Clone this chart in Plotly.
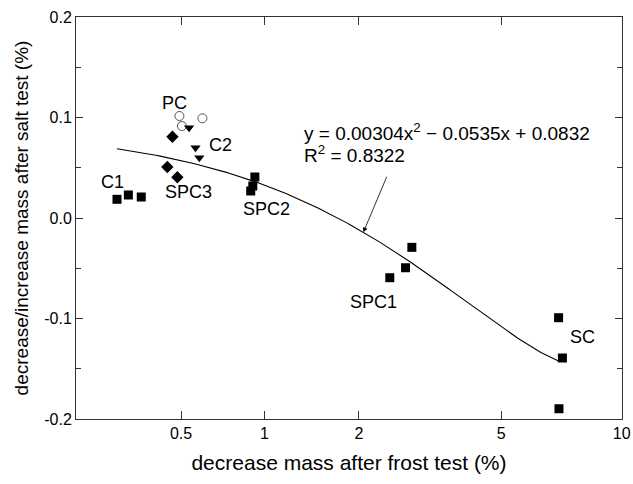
import numpy as np
import plotly.graph_objects as go

# ---------------- data ----------------
C1_x = [0.272, 0.305, 0.346]
C1_y = [0.0186, 0.0229, 0.0209]
SPC2_x = [0.928, 0.913, 0.898]
SPC2_y = [0.0408, 0.0318, 0.0269]
SPC1_x = [2.855, 2.739, 2.467]
SPC1_y = [-0.0292, -0.0495, -0.0594]
SC_x = [7.015, 7.17, 7.03]
SC_y = [-0.0992, -0.1393, -0.1898]
SPC3_x = [0.463, 0.442, 0.484]
SPC3_y = [0.0809, 0.0507, 0.0405]
PC_x = [0.493, 0.603, 0.504]
PC_y = [0.1015, 0.0992, 0.0915]
C2_x = [0.537, 0.568, 0.587]
C2_y = [0.0899, 0.0700, 0.0600]

fit_coef = [0.00304, -0.0535, 0.0832]   # y = a x^2 + b x + c
fit_range = [0.272, 7.05]

x_tick_vals = [0.5, 1, 2, 5, 10]
x_tick_text = ["0.5", "1", "2", "5", "10"]
y_tick_vals = [0.2, 0.1, 0.0, -0.1, -0.2]
y_tick_text = ["0.2", "0.1", "0.0", "-0.1", "-0.2"]

# ------------- custom x scale (stretched log) -------------
K = 0.2087
def xs(v):
    u = np.log10(np.asarray(v, dtype=float))
    return u + K * u ** 2

FONT = "Liberation Sans, Arial, sans-serif"
fig = go.Figure()

sq = dict(symbol="square", size=9, color="black")
fig.add_trace(go.Scatter(x=xs(C1_x), y=C1_y, mode="markers", marker=sq, showlegend=False))
fig.add_trace(go.Scatter(x=xs(SPC2_x), y=SPC2_y, mode="markers", marker=sq, showlegend=False))
fig.add_trace(go.Scatter(x=xs(SPC1_x), y=SPC1_y, mode="markers", marker=sq, showlegend=False))
fig.add_trace(go.Scatter(x=xs(SC_x), y=SC_y, mode="markers", marker=sq, showlegend=False))
fig.add_trace(go.Scatter(x=xs(SPC3_x), y=SPC3_y, mode="markers",
                         marker=dict(symbol="diamond", size=9.5, color="black"), showlegend=False))
fig.add_trace(go.Scatter(x=xs(PC_x), y=PC_y, mode="markers",
                         marker=dict(symbol="circle-open", size=9, color="#555",
                                     line=dict(width=1, color="#555")), showlegend=False))
fig.add_trace(go.Scatter(x=xs(C2_x), y=C2_y, mode="markers",
                         marker=dict(symbol="triangle-down", size=9, color="black"), showlegend=False))

# fit curve from the equation shown on the chart
fx = np.geomspace(fit_range[0], fit_range[1], 200)
fy = np.polyval(fit_coef, fx)
fig.add_trace(go.Scatter(x=xs(fx), y=fy, mode="lines",
                         line=dict(color="black", width=1.1), showlegend=False))

# sample labels
labels = [("PC", 0.470, 0.1144), ("C2", 0.704, 0.0731), ("C1", 0.2596, 0.0361),
          ("SPC3", 0.5325, 0.0256), ("SPC2", 1.019, 0.0088), ("SPC1", 2.211, -0.0831),
          ("SC", 8.035, -0.1184)]
for txt, lx, ly in labels:
    fig.add_annotation(x=float(xs(lx)), y=ly, text=txt, showarrow=False,
                       font=dict(family=FONT, size=18, color="black"))

# equation
fig.add_annotation(x=float(xs(1.335)), y=0.0858, xanchor="left",
                   text="y = 0.00304x<sup>2</sup> \u2212 0.0535x + 0.0832", showarrow=False,
                   font=dict(family=FONT, size=19, color="black"))
fig.add_annotation(x=float(xs(1.335)), y=0.0640, xanchor="left",
                   text="R<sup>2</sup> = 0.8322", showarrow=False,
                   font=dict(family=FONT, size=19, color="black"))
# arrow to the curve
hx = 2.062
fig.add_annotation(x=float(xs(hx)), y=float(np.polyval(fit_coef, hx)), text="",
                   showarrow=True, ax=24, ay=-57, arrowhead=2, arrowsize=1.2,
                   arrowwidth=0.8, arrowcolor="black")

axis_common = dict(showline=True, linecolor="#333", linewidth=1, mirror="allticks",
                   ticks="inside", tickcolor="#333", showgrid=False, zeroline=False,
                   automargin=False,
                   tickfont=dict(family=FONT, size=16, color="black"))

fig.update_xaxes(range=[float(xs(0.175)), float(xs(10.02))], tickmode="array",
                 tickvals=list(xs(x_tick_vals)), ticktext=x_tick_text, ticklen=8,
                 title=dict(text="decrease mass after frost test (%)",
                            font=dict(family=FONT, size=21, color="black"), standoff=14),
                 **axis_common)
fig.update_yaxes(range=[-0.2, 0.2], tickmode="array", tickvals=y_tick_vals,
                 ticktext=y_tick_text, ticklen=7,
                 minor=dict(ticks="inside", ticklen=5, tickcolor="#333",
                            tickmode="array", tickvals=[-0.15, -0.05, 0.05, 0.15]),
                 title=dict(text="decrease/increase mass after salt test (%)",
                            font=dict(family=FONT, size=19, color="black"), standoff=10),
                 **axis_common)

fig.update_layout(width=633, height=484, margin=dict(l=76, r=11, t=17, b=65),
                  plot_bgcolor="white", paper_bgcolor="white",
                  font=dict(family=FONT, color="black"))
fig.write_html("out.html")
